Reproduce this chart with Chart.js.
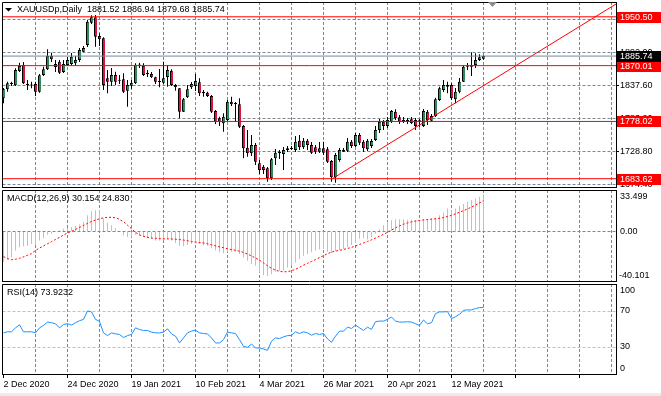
<!DOCTYPE html>
<html lang="en">
<head>
<meta charset="UTF-8" />
<title>XAUUSDp Daily</title>
<script src="https://cdn.jsdelivr.net/npm/chart.js"></script>
<style>
  body { margin: 0; background: #ffffff; }
  .tela { position: relative; width: 661px; height: 396px; overflow: hidden; }
  .tela canvas { position: absolute; left: 0; top: 0; }
  .rodape { position: absolute; left: 0; top: 393px; width: 661px; height: 3px; background: #ececec; }
</style>
</head>
<body>
<div class="tela">
  <canvas id="precoChart" width="661" height="396"></canvas>
  <canvas id="macdChart" width="661" height="396"></canvas>
  <canvas id="rsiChart" width="661" height="396"></canvas>
  <div class="rodape"></div>
</div>
<script>
// daily candles, one per bar (2 Dec 2020 .. May 2021)
var opens = [
  1816.1, 1831.0, 1840.9, 1837.6, 1861.2, 1871.1, 1838.1, 1838.1, 1839.7, 1827.0,
  1854.6, 1864.0, 1885.9, 1867.8, 1876.5, 1859.5, 1871.1, 1872.7, 1873.9, 1879.3,
  1893.0, 1904.0, 1940.8, 1949.7, 1918.9, 1915.1, 1849.1, 1843.5, 1854.6, 1846.3,
  1847.5, 1828.7, 1836.9, 1840.9, 1871.6, 1869.9, 1857.9, 1856.2, 1850.8, 1844.7,
  1841.9, 1851.3, 1861.7, 1838.1, 1832.6, 1794.1, 1817.8, 1834.3, 1836.4, 1842.5,
  1827.0, 1825.4, 1819.9, 1795.2, 1783.2, 1775.0, 1780.4, 1810.6, 1807.9, 1806.3,
  1770.5, 1734.7, 1725.5, 1739.2, 1709.0, 1703.4, 1700.8, 1684.3, 1717.2, 1725.5,
  1724.3, 1730.9, 1732.6, 1730.9, 1746.3, 1735.4, 1746.3, 1739.2, 1735.4, 1728.1,
  1733.7, 1732.1, 1712.8, 1685.9, 1714.4, 1728.1, 1729.8, 1744.6, 1737.5, 1755.7,
  1744.6, 1732.1, 1737.5, 1747.4, 1763.9, 1777.6, 1770.5, 1777.6, 1794.1, 1784.8,
  1780.4, 1777.6, 1781.5, 1780.4, 1777.1, 1770.5, 1794.1, 1779.2, 1787.0, 1813.4,
  1829.9, 1835.3, 1838.1, 1814.5, 1827.0, 1843.5, 1868.3, 1871.1, 1871.1, 1879.3,
  1881.52
];
var highs = [
  1833.1, 1843.5, 1843.5, 1865.6, 1874.9, 1876.0, 1846.3, 1843.5, 1843.5, 1856.2,
  1868.3, 1896.9, 1891.3, 1879.3, 1879.3, 1879.3, 1884.2, 1890.8, 1885.9, 1899.1,
  1902.4, 1945.2, 1953.0, 1953.5, 1923.3, 1916.7, 1862.8, 1866.1, 1860.0, 1854.6,
  1857.4, 1846.3, 1846.3, 1873.9, 1874.9, 1873.9, 1862.8, 1859.5, 1851.8, 1864.5,
  1876.5, 1871.1, 1864.0, 1839.7, 1833.1, 1816.6, 1838.1, 1843.0, 1856.2, 1849.1,
  1829.9, 1827.0, 1821.6, 1796.9, 1785.8, 1791.4, 1813.4, 1818.8, 1810.1, 1816.1,
  1772.1, 1763.9, 1755.7, 1742.5, 1714.4, 1706.2, 1702.9, 1717.7, 1732.6, 1731.0,
  1735.9, 1737.5, 1737.5, 1754.0, 1755.7, 1750.7, 1749.1, 1744.1, 1739.2, 1744.1,
  1744.6, 1735.9, 1714.4, 1726.0, 1734.2, 1734.2, 1750.7, 1747.4, 1758.9, 1758.9,
  1747.4, 1749.1, 1749.1, 1770.5, 1782.0, 1780.4, 1785.3, 1796.9, 1798.0, 1788.6,
  1785.3, 1783.7, 1785.3, 1783.7, 1782.0, 1798.5, 1796.9, 1790.3, 1817.1, 1835.3,
  1846.3, 1843.5, 1840.9, 1833.1, 1849.6, 1871.1, 1874.4, 1892.0, 1890.3, 1888.7,
  1886.94
];
var lows = [
  1807.9, 1827.0, 1836.4, 1836.4, 1859.5, 1839.7, 1829.9, 1832.6, 1819.9, 1825.4,
  1852.9, 1862.8, 1876.0, 1859.5, 1856.2, 1857.9, 1869.4, 1869.4, 1869.4, 1876.0,
  1892.5, 1900.7, 1938.7, 1901.2, 1902.4, 1829.9, 1824.4, 1836.4, 1838.1, 1839.7,
  1824.9, 1802.3, 1832.0, 1839.7, 1866.1, 1852.9, 1851.3, 1849.6, 1839.7, 1834.3,
  1839.7, 1835.3, 1836.4, 1828.7, 1783.2, 1793.6, 1816.6, 1831.5, 1828.2, 1819.9,
  1818.8, 1818.3, 1791.9, 1773.8, 1770.5, 1761.1, 1778.7, 1803.5, 1777.1, 1767.2,
  1717.2, 1719.9, 1721.0, 1706.2, 1691.4, 1691.4, 1678.7, 1681.5, 1706.2, 1716.0,
  1698.0, 1727.6, 1730.9, 1727.6, 1730.9, 1732.6, 1730.9, 1724.3, 1724.3, 1726.0,
  1722.7, 1709.5, 1678.7, 1677.0, 1711.6, 1727.6, 1727.6, 1734.2, 1735.9, 1739.2,
  1727.6, 1729.3, 1734.2, 1745.8, 1758.9, 1763.9, 1767.2, 1775.5, 1780.4, 1773.8,
  1775.5, 1773.8, 1773.8, 1763.9, 1768.8, 1768.8, 1772.1, 1777.1, 1785.3, 1811.7,
  1826.5, 1824.4, 1813.4, 1807.9, 1824.4, 1843.0, 1862.8, 1852.9, 1866.1, 1877.6,
  1879.68
];
var closes = [
  1831.0, 1840.9, 1839.7, 1862.8, 1869.4, 1840.9, 1838.6, 1837.3, 1827.0, 1854.1,
  1864.0, 1885.9, 1880.4, 1872.7, 1858.4, 1872.7, 1879.3, 1884.7, 1879.3, 1895.8,
  1899.1, 1942.4, 1949.7, 1917.7, 1913.4, 1838.1, 1843.5, 1854.6, 1843.5, 1845.2,
  1827.0, 1838.1, 1841.9, 1871.6, 1870.2, 1854.6, 1856.2, 1850.8, 1843.5, 1843.0,
  1849.1, 1862.8, 1838.1, 1834.3, 1794.1, 1814.5, 1831.0, 1839.7, 1844.7, 1824.4,
  1824.4, 1819.9, 1794.1, 1777.6, 1777.6, 1785.8, 1810.6, 1806.3, 1806.8, 1769.3,
  1733.7, 1725.5, 1739.2, 1711.6, 1698.0, 1698.0, 1684.3, 1715.6, 1726.5, 1727.6,
  1730.9, 1733.7, 1733.1, 1744.6, 1735.4, 1746.3, 1739.2, 1726.5, 1728.1, 1733.7,
  1726.5, 1711.6, 1685.9, 1722.7, 1730.9, 1730.9, 1744.6, 1737.5, 1755.7, 1743.0,
  1733.7, 1746.3, 1745.8, 1763.9, 1777.6, 1770.5, 1780.4, 1795.2, 1783.2, 1777.6,
  1777.6, 1780.4, 1775.0, 1770.5, 1779.9, 1795.2, 1780.4, 1787.0, 1814.5, 1832.6,
  1838.1, 1838.6, 1816.1, 1827.0, 1843.5, 1868.3, 1869.9, 1868.3, 1879.3, 1883.7,
  1885.74
];

// MACD(12,26,9): main as histogram, signal as dotted line
var macdMain = [
  -24.5, -22.9, -21, -15.5, -12.8, -12, -11.5, -10.1, -10.9, -7.4,
  -5.5, -2.7, -1.9, 0, 0.8, 2.2, 2.7, 3.5, 4.4, 5.5,
  7.6, 13.1, 16.4, 17.2, 17.2, 10.4, 7.1, 4.9, 2.7, 0,
  -3.3, -4.6, -4.6, -2.7, -3.3, -4.6, -5.5, -6, -7.4, -7.4,
  -7.4, -6.5, -7.4, -9.3, -11.5, -12, -10.9, -10.1, -9.5, -10.1,
  -10.9, -11.5, -13.6, -15.5, -16.9, -17.7, -16.9, -16.4, -16.4, -18.3,
  -21, -23.7, -26.4, -27.8, -33.2, -35.4, -36, -34.6, -32.7, -31.9,
  -31.9, -29.2, -27.8, -25.1, -22.4, -19.6, -18.3, -16.9, -15.5, -14.7,
  -14.2, -16.5, -17.5, -16, -15, -14.2, -12.8, -10.9, -9.3, -6,
  -5.5, -6.5, -4.6, -1.9, 1.6, 4.9, 7.6, 9, 9.8, 9.8,
  9.8, 9.5, 9.5, 9.3, 9.3, 9.8, 9.8, 10.4, 11.2, 13.1,
  15.3, 18.5, 17.2, 18.5, 20.7, 22.1, 24, 25.4, 26.7, 28.1,
  30.154
];
var macdSignal = [
  -20.4, -22, -22.9, -22.5, -21.8, -20.5, -19.3, -18, -15.3, -13.5,
  -11.7, -10, -8.3, -6.5, -4.8, -2.9, -1.3, 0, 1.6, 3.2,
  4.8, 6.5, 8, 9.2, 10.2, 11, 11.4, 11.4, 11, 9.8,
  7.8, 5, 2.2, -0.8, -2.8, -4, -4.8, -5.3, -5.6, -5.8,
  -6, -6, -6.1, -6.3, -6.6, -7, -7.5, -8.2, -8.6, -9,
  -9.3, -10, -10.8, -11.7, -12.5, -13.2, -14, -14.7, -15.3, -16,
  -17, -18.3, -19.8, -21.5, -23.3, -25.5, -27.8, -29.8, -31.3, -32.3,
  -32.7, -32.5, -31.8, -30.6, -29, -27.3, -25.8, -24.3, -22.8, -21.2,
  -19.6, -18, -16.8, -15.9, -15.3, -14.6, -13.8, -12.9, -11.8, -10.6,
  -9.3, -8.1, -6.8, -5.4, -3.9, -2.4, -0.7, 1.1, 2.9, 4.5,
  5.8, 6.9, 7.7, 8.4, 8.9, 9.3, 9.6, 9.9, 10.2, 10.6,
  11.2, 12, 13, 14.2, 15.5, 16.8, 18.2, 19.7, 21.3, 23,
  24.83
];

// RSI(14)
var rsiValues = [
  45.7, 46.9, 46.9, 51.3, 54.7, 46.9, 46.9, 46.9, 45.7, 51.3,
  54, 57.7, 57, 55.8, 51.3, 55, 56, 54.3, 57, 59.2,
  60.7, 70.1, 69, 60.7, 58.5, 45.7, 42.7, 45.7, 44.6, 43.9,
  40.5, 42.7, 43.9, 51.3, 49.4, 48.4, 48.4, 46.5, 45.7, 45.7,
  46.5, 50.2, 44.6, 42, 34.5, 40.1, 45.7, 47.6, 48.7, 45.7,
  45, 44.6, 40.1, 34.5, 34.5, 38.2, 46.5, 45.7, 45, 38.2,
  30.7, 29.6, 33.4, 28.9, 28.9, 27.8, 26.3, 36.4, 40.1, 39.4,
  41.2, 42.7, 42.7, 46.9, 45, 46.9, 45.7, 43.1, 45, 43.9,
  45, 39, 35.2, 42, 47.6, 47.6, 52.1, 50.6, 54.3, 51.3,
  48.4, 52.1, 49.5, 58.1, 58.8, 58.8, 60.7, 63.3, 58.8, 57.7,
  57.7, 58.1, 57.7, 55.8, 54, 60, 55.8, 57, 67.1, 69,
  69, 69.3, 61.5, 63.7, 66.3, 70.8, 71.2, 71.2, 72.7, 73.8,
  73.9232
];

// x axis labels, one every 16 bars
var dateLabels = ['2 Dec 2020', '24 Dec 2020', '19 Jan 2021', '10 Feb 2021', '4 Mar 2021', '26 Mar 2021', '20 Apr 2021', '12 May 2021'];
var priceTicks = [1674.40, 1728.80, 1783.20, 1837.60, 1892.00, 1946.40];
var levels = [1950.50, 1870.01, 1778.02, 1683.62];
var lastPrice = 1885.74;
var trendX = [82.2, 154];
var trendY = [1683.62, 1975.1];
var macdRange = [-40.101, 33.499];
var rsiLevels = [30, 70];
var rsiRange = [0, 100];

var FONTE = '"Liberation Sans", Arial, sans-serif';
var GRADE = '#778899';
var TRACO = [3, 2];
var VERDE = '#2e8b57';
var VERMELHO = '#dc143c';
var X_MIN = -0.25, X_MAX = 153.125;
var PASSO = 8;
var ultimo = closes.length - 1;

Chart.defaults.font.family = FONTE;
Chart.defaults.font.size = 9;
Chart.defaults.color = '#000000';
Chart.defaults.animation = false;
Chart.defaults.events = [];
Chart.defaults.plugins.legend.display = false;
Chart.defaults.plugins.tooltip.enabled = false;

function ticksX(inicio) {
  return function (s) {
    var t = [];
    for (var v = inicio; v <= X_MAX; v += PASSO) t.push({ value: v });
    s.ticks = t;
  };
}

function eixoXSimples() {
  return {
    type: 'linear', min: X_MIN, max: X_MAX, bounds: 'data', offset: false,
    grid: { offset: false, color: GRADE, drawTicks: false },
    border: { color: '#000', dash: TRACO },
    ticks: { display: false },
    afterBuildTicks: ticksX(PASSO),
    afterFit: function (s) { s.height = 0; s.paddingLeft = 0; s.paddingRight = 0; }
  };
}

function linhaReta(valor, cor) {
  return {
    type: 'line', data: [{ x: X_MIN, y: valor }, { x: X_MAX, y: valor }],
    borderColor: cor, borderWidth: 1, pointRadius: 0, order: 0
  };
}

function bordaEsquerda(chart) {
  var a = chart.chartArea, ctx = chart.ctx;
  var topo = Math.floor(a.top) + 0.5;
  ctx.save();
  ctx.strokeStyle = '#000';
  ctx.lineWidth = 1;
  ctx.beginPath();
  ctx.moveTo(a.left, a.bottom);
  ctx.lineTo(a.left, topo);
  ctx.lineTo(a.right, topo);
  ctx.stroke();
  ctx.restore();
}

// ---------- price panel ----------
var corpos = [], pavios = [], cores = [];
for (var i = 0; i < opens.length; i++) {
  corpos.push({ x: i, y: [opens[i], closes[i]] });
  pavios.push({ x: i, y: [lows[i], highs[i]] });
  cores.push(closes[i] >= opens[i] ? VERDE : VERMELHO);
}

var datasetsPreco = [
  { type: 'bar', data: corpos, backgroundColor: cores, borderColor: '#000',
    borderWidth: { left: 1, right: 0, top: 1, bottom: 1 },
    borderSkipped: false, barThickness: 3, minBarLength: 1, grouped: false, inflateAmount: 0, order: 1 },
  { type: 'bar', data: pavios, backgroundColor: '#000', borderWidth: 0,
    barThickness: 1, grouped: false, inflateAmount: 0, order: 2 },
  linhaReta(lastPrice, '#7b8794')
];
levels.forEach(function (v) { datasetsPreco.push(linhaReta(v, '#ff0000')); });
datasetsPreco.push({
  type: 'line', data: [{ x: trendX[0], y: trendY[0] }, { x: trendX[1], y: trendY[1] }],
  borderColor: '#ff0000', borderWidth: 1, pointRadius: 0, order: 0
});

var rotulosPreco = {
  id: 'rotulosPreco',
  afterDraw: function (chart) {
    var ctx = chart.ctx, y = chart.scales.y, a = chart.chartArea;
    bordaEsquerda(chart);
    ctx.save();
    ctx.font = '9px ' + FONTE;
    ctx.textBaseline = 'middle';
    ctx.fillStyle = '#000';
    ctx.beginPath(); ctx.moveTo(5, 8); ctx.lineTo(12, 8); ctx.lineTo(8.5, 11.5); ctx.closePath(); ctx.fill();
    var ohlc = [opens[ultimo], highs[ultimo], lows[ultimo], closes[ultimo]].map(function (v) { return v.toFixed(2); });
    ctx.fillText('XAUUSDp,Daily  ' + ohlc.join(' '), 17, 10);
    ctx.fillStyle = '#8c8c8c';
    ctx.beginPath(); ctx.moveTo(488, 2); ctx.lineTo(497, 2); ctx.lineTo(492.5, 7); ctx.closePath(); ctx.fill();
    function caixa(valor, fundo) {
      var py = Math.round(y.getPixelForValue(valor));
      ctx.fillStyle = fundo;
      ctx.fillRect(a.right + 1, py - 5, 44, 11);
      ctx.fillStyle = '#fff';
      ctx.fillText(valor.toFixed(2), a.right + 4, py + 0.5);
    }
    levels.forEach(function (v) { caixa(v, '#ff0000'); });
    caixa(lastPrice, '#000');
    ctx.restore();
  }
};

new Chart(document.getElementById('precoChart').getContext('2d'), {
  type: 'bar',
  data: { datasets: datasetsPreco },
  options: {
    responsive: false,
    layout: { padding: { left: 2.5, top: 2, right: 0, bottom: 209 } },
    scales: {
      x: eixoXSimples(),
      y: {
        position: 'right', min: 1669.95, max: 1974.9, bounds: 'data', beginAtZero: false,
        grid: { color: GRADE, tickColor: '#000', tickLength: 3 },
        border: { color: '#000', dash: TRACO },
        ticks: { padding: 1, autoSkip: false, callback: function (v) { return Number(v).toFixed(2); } },
        afterBuildTicks: function (s) { s.ticks = priceTicks.map(function (v) { return { value: v }; }); },
        afterFit: function (s) { s.width = 45; s.paddingTop = 0; s.paddingBottom = 0; }
      }
    }
  },
  plugins: [rotulosPreco]
});

// ---------- MACD panel ----------
var rotulosMacd = {
  id: 'rotulosMacd',
  afterDraw: function (chart) {
    var ctx = chart.ctx, a = chart.chartArea, y = chart.scales.y;
    bordaEsquerda(chart);
    ctx.save();
    ctx.font = '9px ' + FONTE;
    ctx.fillStyle = '#000';
    ctx.textBaseline = 'middle';
    ctx.fillText('MACD(12,26,9) ' + macdMain[ultimo].toFixed(3) + ' ' + macdSignal[ultimo].toFixed(3), 7, 199);
    ctx.textBaseline = 'top';
    ctx.fillText(macdRange[1].toFixed(3), a.right + 4, a.top + 2);
    ctx.textBaseline = 'middle';
    ctx.fillText('0.00', a.right + 4, y.getPixelForValue(0));
    ctx.textBaseline = 'bottom';
    ctx.fillText(macdRange[0].toFixed(3), a.right + 3, a.bottom - 1);
    ctx.restore();
  }
};

new Chart(document.getElementById('macdChart').getContext('2d'), {
  type: 'bar',
  data: {
    datasets: [
      { type: 'line', data: macdSignal.map(function (v, k) { return { x: k, y: v }; }),
        borderColor: '#ff0000', borderWidth: 1, borderDash: [2, 2], pointRadius: 0, order: 0 },
      { type: 'bar', data: macdMain.map(function (v, k) { return { x: k, y: v }; }),
        backgroundColor: '#c0c0c0', borderWidth: 0, barThickness: 1, inflateAmount: 0, order: 1 }
    ]
  },
  options: {
    responsive: false,
    layout: { padding: { left: 2.5, top: 190, right: 0, bottom: 115 } },
    scales: {
      x: eixoXSimples(),
      y: {
        position: 'right', min: macdRange[0], max: macdRange[1], bounds: 'data', beginAtZero: false,
        grid: { color: GRADE, drawTicks: false },
        border: { color: '#000', dash: TRACO },
        ticks: { display: false },
        afterBuildTicks: function (s) { s.ticks = [{ value: 0 }]; },
        afterFit: function (s) { s.width = 45; s.paddingTop = 0; s.paddingBottom = 0; }
      }
    }
  },
  plugins: [rotulosMacd]
});

// ---------- RSI panel ----------
var rotulosRsi = {
  id: 'rotulosRsi',
  afterDraw: function (chart) {
    var ctx = chart.ctx, a = chart.chartArea, y = chart.scales.y;
    bordaEsquerda(chart);
    ctx.save();
    ctx.font = '9px ' + FONTE;
    ctx.fillStyle = '#000';
    ctx.textBaseline = 'middle';
    ctx.fillText('RSI(14) ' + rsiValues[ultimo].toFixed(4), 7, 293);
    ctx.textBaseline = 'top';
    ctx.fillText(String(rsiRange[1]), a.right + 4, a.top + 2);
    ctx.textBaseline = 'middle';
    rsiLevels.forEach(function (v) { ctx.fillText(String(v), a.right + 4, y.getPixelForValue(v)); });
    ctx.textBaseline = 'bottom';
    ctx.fillText(String(rsiRange[0]), a.right + 4, a.bottom - 1);
    ctx.restore();
  }
};

new Chart(document.getElementById('rsiChart').getContext('2d'), {
  type: 'line',
  data: {
    datasets: [
      { data: rsiValues.map(function (v, k) { return { x: k, y: v }; }),
        borderColor: '#1e90ff', borderWidth: 1, pointRadius: 0, tension: 0 }
    ]
  },
  options: {
    responsive: false,
    layout: { padding: { left: 2.5, top: 284, right: 0, bottom: 0 } },
    scales: {
      x: {
        type: 'linear', min: X_MIN, max: X_MAX, bounds: 'data', offset: false,
        grid: {
          offset: false, tickLength: 4,
          color: function (c) { return c.tick && c.tick.value === 0 ? 'rgba(0,0,0,0)' : GRADE; },
          tickColor: function (c) { return c.tick && c.tick.value % 16 === 0 ? '#000' : 'rgba(0,0,0,0)'; }
        },
        border: { color: '#000', dash: TRACO },
        ticks: {
          align: 'start', autoSkip: false, maxRotation: 0, minRotation: 0, padding: 1,
          callback: function (v) { return v % 16 === 0 ? (dateLabels[v / 16] || '') : ''; }
        },
        afterBuildTicks: ticksX(0),
        afterFit: function (s) { s.height = 22; s.paddingLeft = 0; s.paddingRight = 0; }
      },
      y: {
        position: 'right', min: rsiRange[0], max: rsiRange[1], bounds: 'data',
        grid: { color: '#c0c0c0', drawTicks: false },
        border: { color: '#000', dash: TRACO },
        ticks: { display: false },
        afterBuildTicks: function (s) { s.ticks = rsiLevels.map(function (v) { return { value: v }; }); },
        afterFit: function (s) { s.width = 45; s.paddingTop = 0; s.paddingBottom = 0; }
      }
    }
  },
  plugins: [rotulosRsi]
});
</script>
</body>
</html>
